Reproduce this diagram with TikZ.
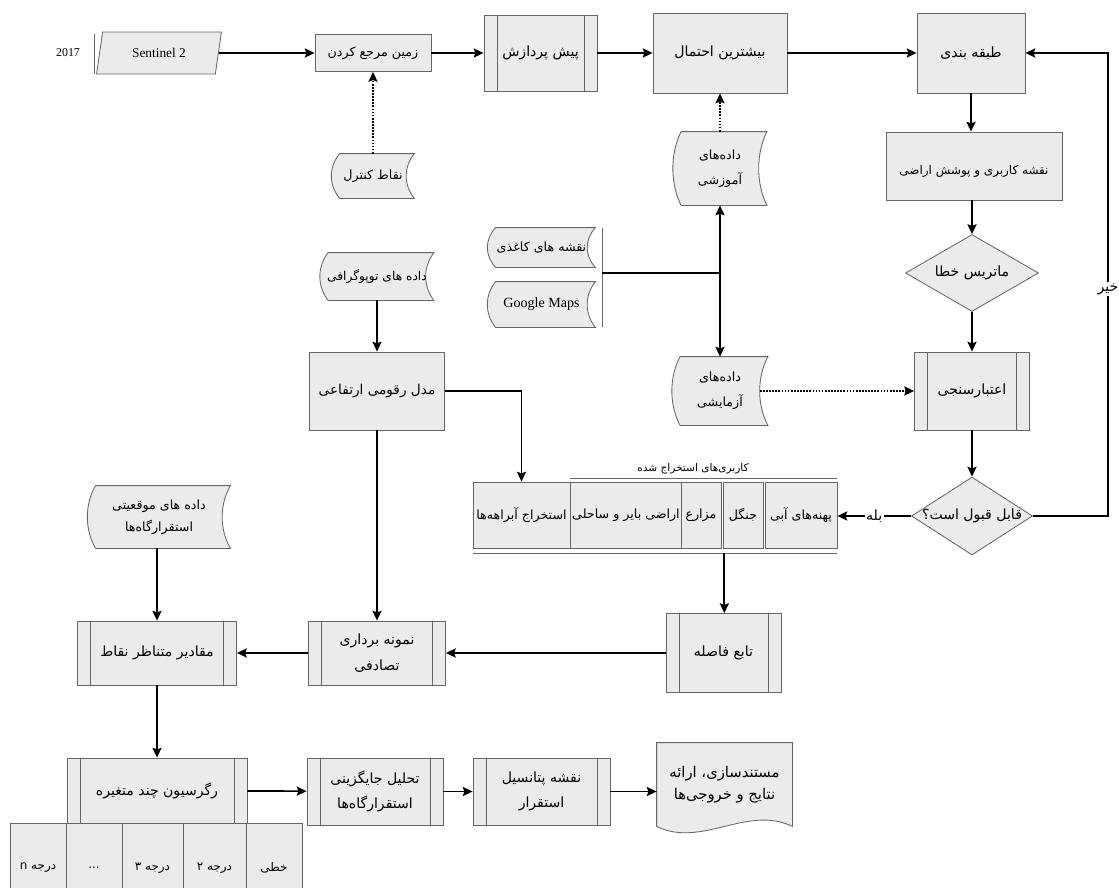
\documentclass[tikz,border=0pt]{standalone}
\usepackage{fontspec}
\setmainfont{Liberation Serif}
\newfontfamily\arabicfont[Script=Arabic]{DejaVu Sans}
\TeXXeTstate=1
\usetikzlibrary{arrows.meta,shapes.geometric,calc}
\newdimen\pxu \pxu=0.025cm
\newcommand{\fa}[1]{{\arabicfont\beginR #1\endR}}
\newcommand{\dotscell}{...}

\tikzset{
  box/.style={draw=black!60, fill=black!8, line width=0.6pt, inner sep=1pt, align=center, font=\fontsize{9}{18}\selectfont},
  proc/.style={box, path picture={
      \draw[black!60, line width=0.6pt] ([xshift=13\pxu]path picture bounding box.north west) -- ([xshift=13\pxu]path picture bounding box.south west);
      \draw[black!60, line width=0.6pt] ([xshift=-13\pxu]path picture bounding box.north east) -- ([xshift=-13\pxu]path picture bounding box.south east);}},
  stored/.style={box, draw=none, fill=none, append after command={\pgfextra{\let\sd\tikzlastnode
      \draw[black!60, fill=black!8, line width=0.6pt] ([xshift=4\pxu]\sd.north west) -- ([xshift=4\pxu]\sd.north east)
        .. controls ([xshift=-7\pxu]$(\sd.north east)!0.3!(\sd.south east)$) and ([xshift=-7\pxu]$(\sd.north east)!0.7!(\sd.south east)$) .. ([xshift=4\pxu]\sd.south east)
        -- ([xshift=4\pxu]\sd.south west)
        .. controls ([xshift=-7\pxu]$(\sd.north west)!0.7!(\sd.south west)$) and ([xshift=-7\pxu]$(\sd.north west)!0.3!(\sd.south west)$) .. ([xshift=4\pxu]\sd.north west) -- cycle;}}},
  docshape/.style={box, draw=none, fill=none, append after command={\pgfextra{\let\dd\tikzlastnode
      \draw[black!60, fill=black!8, line width=0.6pt] (\dd.south west) -- (\dd.north west) -- (\dd.north east) -- (\dd.south east)
        .. controls ([shift={(-45,-22)}]\dd.south east) and ([shift={(45,22)}]\dd.south west) .. (\dd.south west) -- cycle;}}},
  dec/.style={box, diamond, inner sep=0pt},
  cell/.style={box, font=\fontsize{9}{11}\selectfont},
  arr/.style={->, line width=1.2pt, black},
  dotarr/.style={arr, densely dotted},
  thinline/.style={black!60, line width=0.6pt},
  lbl/.style={fill=white, inner sep=1pt, font=\fontsize{10}{12}\selectfont}
}

\begin{document}
\begin{tikzpicture}[x=0.025cm, y=-0.025cm, >={Stealth[length=7pt,width=6.5pt,inset=1.2pt]}]
\useasboundingbox (0,0) rectangle (1119,888);

% top row
\node[font=\fontsize{8.5}{10}\selectfont] (yr) at (68,53) {2017};
\draw[thinline] (yr.east) ++(10,-19) -- ++(0,40);
\node[box, trapezium, trapezium left angle=76, trapezium right angle=104, trapezium stretches=true, minimum width=125\pxu, minimum height=42\pxu, font=\fontsize{9.5}{11}\selectfont] (sent) at (159,53) {Sentinel 2};
\node[box, minimum width=116\pxu, minimum height=37\pxu] (georef) at (373,53) {\fa{زمین مرجع کردن}};
\node[stored, minimum width=74\pxu, minimum height=44\pxu] (ctrl) at (373,176) {\fa{نقاط کنترل}};
\node[proc, minimum width=113\pxu, minimum height=76\pxu, font=\fontsize{10}{16}\selectfont] (prep) at (540.5,53) {\fa{پیش پردازش}};
\node[box, minimum width=134\pxu, minimum height=80\pxu, font=\fontsize{10}{16}\selectfont] (maxlik) at (720,53) {\fa{بیشترین احتمال}};
\node[box, minimum width=108\pxu, minimum height=80\pxu, font=\fontsize{10}{16}\selectfont] (classify) at (971,53) {\fa{طبقه بندی}};
\node[stored, minimum width=85\pxu, minimum height=73\pxu] (train) at (720,168.5) {\fa{داده^^^^200cهای}\\\fa{آموزشی}};
\node[box, minimum width=176\pxu, minimum height=68\pxu, font=\fontsize{8.5}{12}\selectfont] (lulc) at (974,166) {\raisebox{-4pt}[\height][\depth]{\fa{نقشه کاربری و پوشش اراضی}}};

% right column
\node[dec, minimum width=133\pxu, minimum height=77\pxu, font=\fontsize{10}{12}\selectfont] (errmat) at (972,273) {\makebox[0pt]{\fa{ماتریس خطا}}};
\node[proc, minimum width=115\pxu, minimum height=78\pxu, font=\fontsize{10}{12}\selectfont] (valid) at (972,391) {\fa{اعتبارسنجی}};
\node[dec, minimum width=121\pxu, minimum height=78\pxu, font=\fontsize{10}{12}\selectfont] (accept) at (972,516) {\makebox[0pt]{\fa{قابل قبول است؟}}};

% middle inputs
\node[stored, minimum width=99\pxu, minimum height=39\pxu] (paper) at (541.5,247.5) {\fa{نقشه های کاغذی}};
\node[stored, minimum width=99\pxu, minimum height=45\pxu, font=\fontsize{10}{12}\selectfont] (gmaps) at (541.5,304.5) {Google Maps};
\node[stored, minimum width=105\pxu, minimum height=47\pxu, font=\fontsize{8.7}{12}\selectfont] (topo) at (377,276.5) {\fa{داده های توپوگرافی}};
\node[box, minimum width=135\pxu, minimum height=78\pxu, font=\fontsize{9.7}{12}\selectfont] (dem) at (377,391) {\fa{مدل رقومی ارتفاعی}};
\node[stored, minimum width=87\pxu, minimum height=68\pxu] (test) at (720,391) {\fa{داده^^^^200cهای}\\\fa{آزمایشی}};

% extracted land uses
\foreach \name/\x/\w/\txt in {streams/521.5/97/استخراج آبراهه^^^^200cها, barren/626/106/اراضی بایر و ساحلی, farms/701/40/مزارع, forest/743/40/جنگل, water/801/72/پهنه^^^^200cهای آبی}
  \node[cell, minimum width=\w\pxu, minimum height=66\pxu] (\name) at (\x,515) {\fa{\txt}};
\node[font=\fontsize{7.5}{10}\selectfont] (useslbl) at (693,469) {\fa{کاربری^^^^200cهای استخراج شده}};
\draw[thinline] ([yshift=3\pxu]barren.north west) -- ([yshift=3\pxu]water.north east);
\draw[thinline] ([yshift=-5\pxu]streams.south west) -- coordinate[pos=0.69] (usesout) ([yshift=-5\pxu]water.south east);

% lower part
\node[stored, minimum width=134\pxu, minimum height=62\pxu, font=\fontsize{9}{16}\selectfont] (loc) at (159,517) {\fa{داده های موقعیتی}\\\fa{استقرارگاه^^^^200cها}};
\node[proc, minimum width=159\pxu, minimum height=64\pxu, font=\fontsize{10}{12}\selectfont] (vals) at (157,653) {\fa{مقادیر متناظر نقاط}};
\node[proc, minimum width=137\pxu, minimum height=64\pxu, font=\fontsize{10}{18}\selectfont] (sample) at (377,653) {\fa{نمونه برداری}\\\fa{تصادفی}};
\node[proc, minimum width=115\pxu, minimum height=79\pxu, font=\fontsize{10}{12}\selectfont] (dist) at (723.5,653) {\fa{تابع فاصله}};
\node[proc, minimum width=180\pxu, minimum height=65\pxu, font=\fontsize{10}{12}\selectfont] (reg) at (157,790.5) {\fa{رگرسیون چند متغیره}};
\foreach \name/\x/\w/\txt in {lin/274/56/خطی, deg2/214.5/63/درجه ۲, deg3/152.5/61/درجه ۳, etc/94/56/\dotscell, degn/38/56/درجه n}
  \node[cell, minimum width=\w\pxu, minimum height=90\pxu, font=\fontsize{8.5}{11}\selectfont] (\name) at (\x,868) {\fa{\txt}};
\node[proc, minimum width=136\pxu, minimum height=67\pxu, font=\fontsize{10}{18}\selectfont] (altern) at (375,791.5) {\fa{تحلیل جایگزینی}\\\fa{استقرارگاه^^^^200cها}};
\node[proc, minimum width=137\pxu, minimum height=67\pxu, font=\fontsize{10}{18}\selectfont] (potent) at (541.5,791.5) {\fa{نقشه پتانسیل}\\\fa{استقرار}};
\node[docshape, minimum width=135\pxu, minimum height=83\pxu, font=\fontsize{10.5}{16}\selectfont] (report) at (724.5,784.5) {\fa{مستندسازی، ارائه}\\\fa{نتایج و خروجی^^^^200cها}};

% connectors
\draw[arr] (sent) -- (georef);
\draw[arr] (georef) -- (prep);
\draw[arr] (prep) -- (maxlik);
\draw[arr] (maxlik) -- (classify);
\draw[dotarr] (ctrl.north) -- (ctrl.north |- georef.south);
\draw[dotarr] (train.north) -- (train.north |- maxlik.south);
\draw[arr] (classify.south) -- (classify.south |- lulc.north);
\draw[arr] (lulc.south -| errmat.north) -- (errmat.north);
\draw[arr] (errmat) -- (valid);
\draw[arr] (valid) -- (accept);
\draw[arr] (accept.west) -- node[lbl] {\fa{بله}} (accept.west -| water.east);
\draw[arr] (accept.east) -- ++(75,0) |- node[lbl, pos=0.245] {\fa{خیر}} (classify.east);
\draw[arr, <->] (train.south) -- (test.north);
\coordinate (mapsbr) at (602,273);
\draw[thinline] (mapsbr |- paper.north) -- (mapsbr |- gmaps.south);
\draw[line width=1.2pt] (mapsbr) -- (mapsbr -| train.south);
\draw[dotarr] ([xshift=-4\pxu]test.east) -- (test.east -| valid.west);
\draw[arr] (topo) -- (dem);
\draw[arr] (dem.east) -| (streams.north);
\draw[arr] (dem) -- (sample);
\draw[arr] (usesout) -- (usesout |- dist.north);
\draw[arr] (dist) -- (sample);
\draw[arr] (sample) -- (vals);
\draw[arr] (vals.north |- loc.south) -- (vals.north);
\draw[arr] (vals.south) -- (vals.south |- reg.north);
\draw[arr] (reg) -- (altern);
\draw[arr] (altern) -- (potent);
\draw[arr] (potent.east) -- (potent.east -| report.west);

\end{tikzpicture}
\end{document}
